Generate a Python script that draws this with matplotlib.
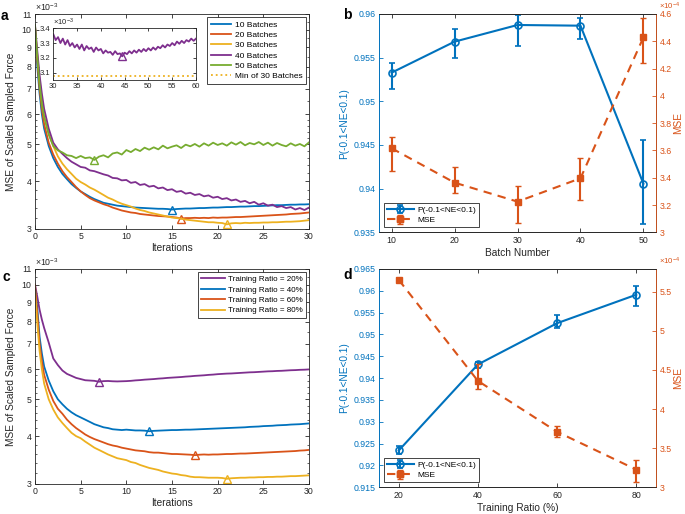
import numpy as np
import matplotlib
matplotlib.use('Agg')
import matplotlib.pyplot as plt
from matplotlib.ticker import FixedLocator, NullFormatter
from matplotlib.lines import Line2D
from matplotlib.transforms import blended_transform_factory

plt.rcParams['font.family'] = ['Liberation Sans', 'DejaVu Sans']
plt.rcParams['mathtext.default'] = 'regular'

BLUE = '#0072BD'; ORANGE = '#D95319'; YELLOW = '#EDB120'
PURPLE = '#7E2F8E'; GREEN = '#77AC30'; GRAY = '#262626'

# ---------------- data ----------------
iters = np.concatenate([[0, 0.25, 0.5, 0.75], np.arange(1, 30.5, 0.5)])

# panel a (x1e-3)
mse_10b = [10.2, 8.0, 6.8, 6.0, 5.5,
           4.95, 4.6, 4.36, 4.18, 4.05, 3.93, 3.84, 3.76, 3.7, 3.64,
           3.59, 3.55, 3.51, 3.49, 3.47, 3.45, 3.44, 3.43, 3.42, 3.41,
           3.405, 3.4, 3.395, 3.39, 3.385, 3.385, 3.38, 3.37, 3.38, 3.385,
           3.39, 3.39, 3.395, 3.4, 3.4, 3.405, 3.41, 3.41, 3.415, 3.42,
           3.42, 3.425, 3.43, 3.43, 3.435, 3.44, 3.44, 3.445, 3.45, 3.455,
           3.46, 3.46, 3.465, 3.47, 3.47, 3.475, 3.475, 3.48]
mse_20b = [10.2, 8.3, 7.0, 6.2, 5.65,
           5.05, 4.7, 4.45, 4.25, 4.1, 3.98, 3.86, 3.76, 3.68, 3.61,
           3.56, 3.52, 3.48, 3.45, 3.41, 3.38, 3.35, 3.33, 3.31, 3.3,
           3.28, 3.27, 3.26, 3.25, 3.24, 3.235, 3.23, 3.22, 3.21, 3.19,
           3.2, 3.2, 3.205, 3.2, 3.205, 3.2, 3.21, 3.205, 3.21, 3.21,
           3.215, 3.22, 3.22, 3.225, 3.23, 3.235, 3.24, 3.245, 3.25, 3.255,
           3.26, 3.265, 3.27, 3.28, 3.285, 3.29, 3.3, 3.31]
mse_30b = [10.2, 8.6, 7.4, 6.5, 5.95,
           5.35, 4.95, 4.65, 4.45, 4.3, 4.18, 4.06, 3.98, 3.92, 3.85,
           3.8, 3.74, 3.68, 3.62, 3.58, 3.53, 3.49, 3.46, 3.43, 3.39,
           3.36, 3.34, 3.31, 3.29, 3.27, 3.25, 3.23, 3.21, 3.2, 3.19,
           3.17, 3.16, 3.15, 3.14, 3.13, 3.12, 3.12, 3.11, 3.105, 3.08,
           3.1, 3.105, 3.1, 3.11, 3.105, 3.11, 3.11, 3.115, 3.115, 3.12,
           3.12, 3.125, 3.13, 3.13, 3.135, 3.14, 3.15, 3.16]
mse_40b = [10.3, 8.8, 7.6, 6.8, 6.2,
           5.5, 5.05, 4.85, 4.72, 4.6, 4.5, 4.43, 4.36, 4.34, 4.27,
           4.25, 4.21, 4.17, 4.14, 4.08, 4.07, 4.02, 4.03, 3.96, 3.98,
           3.91, 3.93, 3.87, 3.89, 3.83, 3.85, 3.79, 3.81, 3.75, 3.77,
           3.71, 3.73, 3.68, 3.7, 3.65, 3.67, 3.62, 3.64, 3.59, 3.61,
           3.56, 3.58, 3.53, 3.55, 3.5, 3.53, 3.47, 3.5, 3.45, 3.47,
           3.42, 3.44, 3.4, 3.42, 3.37, 3.4, 3.36, 3.41]
mse_50b = [10.3, 8.5, 7.2, 6.4, 5.9,
           5.3, 4.95, 4.82, 4.76, 4.68, 4.66, 4.6, 4.66, 4.6, 4.62,
           4.55, 4.64, 4.68, 4.62, 4.73, 4.76, 4.7, 4.83, 4.77, 4.86,
           4.8, 4.9, 4.84, 4.91, 4.85, 4.96, 4.88, 4.93, 4.97, 4.89,
           4.99, 4.94, 5.01, 4.93, 5.03, 4.96, 5.05, 4.98, 5.03, 4.96,
           5.06, 4.99, 5.07, 4.97, 5.04, 5.0, 5.07, 4.98, 5.05, 4.96,
           5.04, 4.98, 4.94, 5.03, 4.96, 5.01, 4.94, 5.06]
batch_labels = ['10 Batches', '20 Batches', '30 Batches', '40 Batches', '50 Batches']

# inset: 40 batches, iterations 30-60 (x1e-3)
iters_inset = np.arange(30, 60.5, 0.5)
mse_40b_inset = [3.36, 3.32, 3.34, 3.3, 3.33, 3.29, 3.32, 3.28, 3.3, 3.27,
                 3.29, 3.26, 3.29, 3.25, 3.28, 3.26, 3.27, 3.24, 3.27, 3.25,
                 3.26, 3.23, 3.25, 3.235, 3.24, 3.22, 3.245, 3.225, 3.23, 3.21,
                 3.235, 3.225, 3.245, 3.23, 3.25, 3.235, 3.255, 3.24, 3.26, 3.245,
                 3.265, 3.25, 3.27, 3.255, 3.275, 3.265, 3.285, 3.27, 3.29, 3.28,
                 3.3, 3.285, 3.31, 3.295, 3.315, 3.3, 3.32, 3.31, 3.33, 3.315,
                 3.33]

# panel c (x1e-3)
mse_r20 = [10.0, 9.3, 8.6, 8.1, 7.7,
           7.05, 6.4, 6.15, 5.95, 5.83, 5.76, 5.69, 5.65, 5.61, 5.6,
           5.59, 5.56, 5.58, 5.585, 5.575, 5.57, 5.575, 5.58, 5.59, 5.605,
           5.615, 5.63, 5.64, 5.65, 5.665, 5.675, 5.69, 5.7, 5.71, 5.72,
           5.735, 5.745, 5.76, 5.77, 5.78, 5.795, 5.805, 5.82, 5.83, 5.84,
           5.845, 5.855, 5.865, 5.875, 5.885, 5.89, 5.9, 5.91, 5.92, 5.925,
           5.935, 5.94, 5.95, 5.96, 5.965, 5.975, 5.98, 5.99]
mse_r40 = [9.8, 8.7, 7.3, 6.6, 6.1,
           5.6, 5.25, 5.0, 4.85, 4.72, 4.62, 4.54, 4.48, 4.42, 4.36,
           4.3, 4.26, 4.22, 4.2, 4.17, 4.16, 4.15, 4.16, 4.15, 4.14,
           4.14, 4.135, 4.12, 4.13, 4.135, 4.14, 4.145, 4.15, 4.15, 4.155,
           4.16, 4.16, 4.165, 4.17, 4.175, 4.18, 4.185, 4.19, 4.195, 4.2,
           4.205, 4.21, 4.215, 4.22, 4.23, 4.235, 4.24, 4.25, 4.255, 4.26,
           4.27, 4.275, 4.28, 4.29, 4.295, 4.3, 4.31, 4.32]
mse_r60 = [10.0, 8.4, 7.0, 6.3, 5.8,
           5.3, 4.95, 4.72, 4.58, 4.42, 4.3, 4.2, 4.12, 4.04, 3.98,
           3.93, 3.89, 3.85, 3.81, 3.78, 3.76, 3.73, 3.71, 3.69, 3.67,
           3.66, 3.65, 3.63, 3.62, 3.62, 3.61, 3.6, 3.59, 3.59, 3.585,
           3.58, 3.575, 3.565, 3.575, 3.58, 3.575, 3.58, 3.58, 3.585, 3.59,
           3.59, 3.595, 3.6, 3.6, 3.605, 3.61, 3.615, 3.62, 3.625, 3.63,
           3.635, 3.64, 3.645, 3.65, 3.655, 3.665, 3.67, 3.68]
mse_r80 = [9.6, 7.9, 6.7, 6.0, 5.5,
           5.0, 4.7, 4.48, 4.33, 4.2, 4.08, 4.0, 3.95, 3.87, 3.8,
           3.73, 3.68, 3.63, 3.58, 3.54, 3.5, 3.48, 3.46, 3.42, 3.4,
           3.36, 3.33, 3.3, 3.28, 3.26, 3.23, 3.21, 3.19, 3.18, 3.16,
           3.15, 3.13, 3.12, 3.12, 3.115, 3.11, 3.11, 3.11, 3.105, 3.09,
           3.1, 3.105, 3.11, 3.11, 3.115, 3.115, 3.12, 3.12, 3.125, 3.125,
           3.13, 3.13, 3.135, 3.14, 3.14, 3.145, 3.15, 3.155]
ratio_labels = ['Training Ratio = 20%', 'Training Ratio = 40%',
                'Training Ratio = 60%', 'Training Ratio = 80%']

# panel b
batch = [10, 20, 30, 40, 50]
p_b = [0.95328, 0.95683, 0.95874, 0.95866, 0.94057]
p_b_lo = [0.00183, 0.00187, 0.00237, 0.00148, 0.00458]
p_b_hi = [0.00115, 0.00145, 0.00115, 0.00092, 0.00500]
mse_b = [3.616, 3.364, 3.225, 3.396, 4.429]          # x1e-4
mse_b_lo = [0.164, 0.073, 0.154, 0.159, 0.190]
mse_b_hi = [0.084, 0.113, 0.117, 0.147, 0.139]

# panel d
ratio = [20, 40, 60, 80]
p_d = [0.92344, 0.94314, 0.95258, 0.95910]
p_d_lo = [0.00077, 0.00080, 0.00100, 0.00262]
p_d_hi = [0.00092, 0.00054, 0.00184, 0.00191]
mse_d = [5.65, 4.359, 3.709, 3.226]                  # x1e-4
mse_d_lo = [0.02, 0.098, 0.068, 0.162]
mse_d_hi = [0.02, 0.214, 0.073, 0.120]

# ---------------- figure ----------------
fig = plt.figure(figsize=(6.85, 5.14), dpi=100)
TICK = 6.3
LAB = 7.3
MINOR_Y = [3.2, 3.4, 3.6, 3.8, 4.2, 4.4, 4.6, 4.8, 5.2, 5.4, 5.6, 5.8,
           6.5, 7.5, 8.5, 9.5, 10.5]


def style_axes(ax, color=GRAY):
    for s in ax.spines.values():
        s.set_color(color)
        s.set_linewidth(0.6)
    ax.tick_params(direction='in', length=3, width=0.6, labelsize=TICK,
                   colors=GRAY, top=True, right=True, pad=2.5)
    ax.tick_params(which='minor', direction='in', length=1.6, width=0.5,
                   colors=GRAY, right=True, left=True)


def curve_panel(ax, series, colors, labels, show_min):
    lines = []
    for vals, c, lab, sm in zip(series, colors, labels, show_min):
        vals = np.asarray(vals)
        ln, = ax.plot(iters, vals, color=c, lw=1.3, label=lab)
        lines.append(ln)
        if sm:
            i = int(np.argmin(vals))
            ax.plot(iters[i], vals[i], '^', ms=6, mfc='none', mec=c, mew=1.0)
    ax.set_yscale('log')
    ax.set_xlim(0, 30)
    ax.set_ylim(3, 11)
    yt = [3, 4, 5, 6, 7, 8, 9, 10, 11]
    ax.set_yticks(yt)
    ax.set_yticklabels([str(v) for v in yt])
    ax.yaxis.set_minor_locator(FixedLocator(MINOR_Y))
    ax.yaxis.set_minor_formatter(NullFormatter())
    ax.set_xticks([0, 5, 10, 15, 20, 25, 30])
    style_axes(ax)
    ax.set_xlabel('Iterations', fontsize=LAB, color=GRAY, labelpad=1)
    ax.set_ylabel('MSE of Scaled Sampled Force', fontsize=LAB, color=GRAY, labelpad=4)
    ax.text(0.0, 1.005, r'$\times10^{-3}$', transform=ax.transAxes, fontsize=6.3,
            color=GRAY, ha='left', va='bottom')
    return lines


# ----- panel a -----
axa = fig.add_axes([0.0511, 0.555, 0.400, 0.4177])
lines_a = curve_panel(axa, [mse_10b, mse_20b, mse_30b, mse_40b, mse_50b],
                      [BLUE, ORANGE, YELLOW, PURPLE, GREEN], batch_labels,
                      [True, True, True, False, True])

axi = fig.add_axes([0.0778, 0.8444, 0.2083, 0.1006])
axi.plot(iters_inset, mse_40b_inset, color=PURPLE, lw=1.3)
ii = int(np.argmin(mse_40b_inset))
axi.plot(iters_inset[ii], mse_40b_inset[ii], '^', ms=6, mfc='none', mec=PURPLE, mew=1.0)
min_line = axi.axhline(min(mse_30b), color=YELLOW, lw=1.3, ls=':', label='Min of 30 Batches')
axi.set_xlim(30, 60)
axi.set_ylim(3.05, 3.4)
axi.set_xticks([30, 35, 40, 45, 50, 55, 60])
axi.set_yticks([3.1, 3.2, 3.3, 3.4])
axi.set_yticklabels(['3.1', '3.2', '3.3', '3.4'])
style_axes(axi)
axi.tick_params(labelsize=5.5, length=2, pad=2)
axi.text(0.0, 1.01, r'$\times10^{-3}$', transform=axi.transAxes, fontsize=5.5,
         color=GRAY, ha='left', va='bottom')

lega = axa.legend(handles=lines_a + [min_line], loc='upper right', fontsize=6,
                  frameon=True, fancybox=False, edgecolor=GRAY, framealpha=1,
                  handlelength=2.4, labelspacing=0.3, borderpad=0.4,
                  borderaxespad=0.4, handletextpad=0.5)
lega.get_frame().set_linewidth(0.6)

# ----- panel c -----
axc = fig.add_axes([0.0511, 0.059, 0.400, 0.4177])
lines_c = curve_panel(axc, [mse_r20, mse_r40, mse_r60, mse_r80],
                      [PURPLE, BLUE, ORANGE, YELLOW], ratio_labels,
                      [True, True, True, True])
legc = axc.legend(handles=lines_c, loc='upper right', fontsize=5.8,
                  frameon=True, fancybox=False, edgecolor=GRAY, framealpha=1,
                  handlelength=2.9, labelspacing=0.35, borderpad=0.4,
                  borderaxespad=0.4, handletextpad=0.4)
legc.get_frame().set_linewidth(0.6)


# ----- panels b, d -----
def dual_panel(rect, x, p, plo, phi, m, mlo, mhi, xlim, ylim_l, yt_l, ylim_r, yt_r,
               xlabel):
    ax = fig.add_axes(rect)
    ax2 = ax.twinx()
    eb1 = ax.errorbar(x, p, yerr=[plo, phi], fmt='-o', color=BLUE, ms=5, mfc='none',
                      mew=1.2, lw=1.5, elinewidth=1.5, capsize=2.5, capthick=1.5,
                      label='P(-0.1<NE<0.1)')
    eb2 = ax2.errorbar(x, m, yerr=[mlo, mhi], fmt='s', color=ORANGE, ms=4.5,
                       mfc=ORANGE, mew=1.0, elinewidth=1.5, capsize=2.5,
                       capthick=1.5, label='MSE')
    ax2.plot(x, m, color=ORANGE, lw=1.5, dashes=(4, 3))
    ax.set_xlim(*xlim)
    ax.set_xticks(x)
    ax.set_ylim(*ylim_l)
    ax.set_yticks(yt_l)
    ax.set_yticklabels([('%g' % v) for v in yt_l])
    ax2.set_ylim(*ylim_r)
    ax2.set_yticks(yt_r)
    ax2.set_yticklabels([('%g' % v) for v in yt_r])
    for a in (ax, ax2):
        for s in a.spines.values():
            s.set_color(GRAY)
            s.set_linewidth(0.6)
    ax.spines['left'].set_color(BLUE)
    ax2.spines['left'].set_color(BLUE)
    ax2.spines['right'].set_color(ORANGE)
    ax.tick_params(axis='x', direction='in', length=3, width=0.6, labelsize=TICK,
                   colors=GRAY, top=True, pad=2.5)
    ax.tick_params(axis='y', direction='in', length=3, width=0.6, labelsize=TICK,
                   colors=BLUE, right=False, pad=2.5)
    ax2.tick_params(axis='y', direction='in', length=3, width=0.6, labelsize=TICK,
                    colors=ORANGE, pad=2.5)
    ax.set_xlabel(xlabel, fontsize=LAB, color=GRAY, labelpad=2)
    ax.set_ylabel('P(-0.1<NE<0.1)', fontsize=LAB, color=BLUE, labelpad=3)
    ax2.set_ylabel('MSE', fontsize=LAB, color=ORANGE, labelpad=1)
    top = rect[1] + rect[3]
    tr = blended_transform_factory(ax2.transAxes, fig.transFigure)
    ax2.text(1.012, top + 0.026, r'$\times10^{-4}$', transform=tr, fontsize=5.6,
             color=ORANGE, ha='left', va='top')
    h2 = Line2D([], [], color=ORANGE, lw=1.5, dashes=(4, 3), marker='s', ms=4.5,
                mfc=ORANGE)
    leg = ax2.legend([eb1, (h2, eb2)], ['P(-0.1<NE<0.1)', 'MSE'], loc='lower left',
                     fontsize=6, frameon=True, fancybox=False, edgecolor=GRAY,
                     framealpha=1, handlelength=3.2, labelspacing=0.3,
                     borderpad=0.35, borderaxespad=0.6, handletextpad=0.5)
    leg.get_frame().set_linewidth(0.6)
    return ax, ax2


dual_panel([0.5533, 0.548, 0.4044, 0.4248], batch, p_b, p_b_lo, p_b_hi,
           mse_b, mse_b_lo, mse_b_hi, (8, 52), (0.935, 0.96),
           [0.935, 0.94, 0.945, 0.95, 0.955, 0.96], (3.0, 4.6),
           [3.0, 3.2, 3.4, 3.6, 3.8, 4.0, 4.2, 4.4, 4.6], 'Batch Number')
dual_panel([0.5533, 0.052, 0.4044, 0.4247], ratio, p_d, p_d_lo, p_d_hi,
           mse_d, mse_d_lo, mse_d_hi, (15, 85), (0.915, 0.965),
           [0.915, 0.92, 0.925, 0.93, 0.935, 0.94, 0.945, 0.95, 0.955, 0.96, 0.965],
           (3.0, 5.79), [3.0, 3.5, 4.0, 4.5, 5.0, 5.5], 'Training Ratio (%)')

# panel letters
for lab, x, y in [('a', 0.001, 0.982), ('b', 0.501, 0.985),
                  ('c', 0.003, 0.474), ('d', 0.501, 0.478)]:
    fig.text(x, y, lab, fontsize=10, fontweight='bold', va='top', ha='left')

fig.savefig('out.png', dpi=100)
